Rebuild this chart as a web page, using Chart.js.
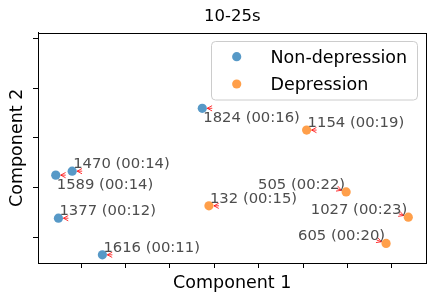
<!DOCTYPE html>
<html>
<head>
<meta charset="utf-8">
<style>body { margin: 0; background: #fff; }</style>
</head>
<body>
<canvas id="myChart" width="435" height="301"></canvas>

<script src="https://cdn.jsdelivr.net/npm/chart.js"></script>
<script>

	// values (axis units are unlabelled)
	const nonDepLabels = ['1824 (00:16)', '1470 (00:14)', '1589 (00:14)', '1377 (00:12)', '1616 (00:11)']
	const nonDepX = [-0.27, -3.20, -3.57, -3.51, -2.52]
	const nonDepY = [0.60, -0.67, -0.75, -1.62, -2.36]

	const depLabels = ['1154 (00:19)', '132 (00:15)', '505 (00:22)', '1027 (00:23)', '605 (00:20)']
	const depX = [2.08, -0.12, 2.97, 4.37, 3.87]
	const depY = [0.16, -1.37, -1.09, -1.60, -2.13]

	// where each annotation sits relative to its point
	const placement = {
		'1824 (00:16)': 'belowRight',
		'1589 (00:14)': 'belowRight',
		'505 (00:22)': 'aboveLeft',
		'1027 (00:23)': 'aboveLeft',
		'605 (00:20)': 'aboveLeft'
	}

	const FONT = "'DejaVu Sans', sans-serif"

	const toPoints = (xs, ys, labels) => xs.map((x, i) => ({ x: x, y: ys[i], label: labels[i] }))

	const annotations = {
		id: 'annotations',
		afterDatasetsDraw(chart) {
			const ctx = chart.ctx
			ctx.save()
			ctx.font = '14.8px ' + FONT
			chart.data.datasets.forEach((ds, di) => {
				const meta = chart.getDatasetMeta(di)
				meta.data.forEach((el, i) => {
					const label = ds.data[i].label
					const where = placement[label] || 'aboveRight'
					const px = el.x, py = el.y
					// arrow
					let dirX = 1, dirY = 0
					if (where === 'aboveLeft') { dirX = -0.94; dirY = -0.34 }
					const tipX = px + dirX * 5, tipY = py + dirY * 5
					const tailX = px + dirX * 10, tailY = py + dirY * 10
					const ang = Math.atan2(dirY, dirX)
					ctx.strokeStyle = 'red'
					ctx.lineWidth = 0.8
					ctx.beginPath()
					ctx.moveTo(tailX, tailY)
					ctx.lineTo(tipX, tipY)
					ctx.moveTo(tipX + Math.cos(ang + 0.5) * 5.5, tipY + Math.sin(ang + 0.5) * 5.5)
					ctx.lineTo(tipX, tipY)
					ctx.lineTo(tipX + Math.cos(ang - 0.5) * 5.5, tipY + Math.sin(ang - 0.5) * 5.5)
					ctx.stroke()
					// text
					ctx.fillStyle = '#4d4d4d'
					ctx.textBaseline = 'alphabetic'
					let tx = px + 1, cy = py - 8.6
					ctx.textAlign = 'left'
					if (where === 'belowRight') cy = py + 8.4
					if (where === 'aboveLeft') { tx = px - 1; ctx.textAlign = 'right' }
					ctx.fillText(label, tx, cy + 5.4)
				})
			})
			ctx.restore()
		},
		afterDraw(chart) {
			const ctx = chart.ctx
			const a = chart.chartArea
			ctx.save()
			// frame on all four sides
			ctx.strokeStyle = '#000'
			ctx.lineWidth = 1
			ctx.strokeRect(Math.round(a.left) + 0.5, Math.round(a.top) + 0.5,
				Math.round(a.right - a.left) - 1, Math.round(a.bottom - a.top))
			// legend in upper right
			const bx = 211.5, by = 41.5, bw = 206, bh = 58.5
			ctx.fillStyle = 'rgba(255,255,255,0.8)'
			ctx.strokeStyle = '#cccccc'
			ctx.beginPath()
			ctx.roundRect(bx, by, bw, bh, 4)
			ctx.fill()
			ctx.stroke()
			ctx.font = '17.5px ' + FONT
			ctx.textAlign = 'left'
			ctx.textBaseline = 'alphabetic'
			chart.data.datasets.forEach((ds, i) => {
				const y = 56.7 + i * 27.3
				ctx.fillStyle = ds.backgroundColor
				ctx.beginPath()
				ctx.arc(236.7, y, 4.6, 0, Math.PI * 2)
				ctx.fill()
				ctx.fillStyle = '#000'
				ctx.fillText(ds.label, 270.5, y + 6.4)
			})
			ctx.restore()
		}
	}

	const axisCommon = {
		type: 'linear',
		ticks: { display: false, stepSize: 1, includeBounds: false },
		grid: { drawOnChartArea: false, tickLength: 5, color: '#000', tickColor: '#000', tickWidth: 1 },
		border: { color: '#000', width: 1 }
	}

	new Chart(document.getElementById('myChart'), {
		type: 'scatter',
		data: {
			datasets: [{
				label: 'Non-depression',
				data: toPoints(nonDepX, nonDepY, nonDepLabels),
				backgroundColor: 'rgba(31,119,180,0.75)',
				borderWidth: 0,
				pointRadius: 4.6
			}, {
				label: 'Depression',
				data: toPoints(depX, depY, depLabels),
				backgroundColor: 'rgba(255,127,14,0.75)',
				borderWidth: 0,
				pointRadius: 4.6
			}]
		},
		options: {
			responsive: false,
			animation: false,
			layout: { padding: { top: 3, right: 8.5, bottom: 0, left: 0 } },
			plugins: {
				legend: { display: false },
				tooltip: { enabled: false },
				title: {
					display: true,
					fullSize: false,
					text: '10-25s',
					color: '#000',
					font: { size: 16.5, weight: 'normal', family: FONT },
					padding: { top: 3.6, bottom: 6.3 }
				}
			},
			scales: {
				x: Object.assign({}, axisCommon, {
					min: -3.97, max: 4.78,
					title: { display: true, text: 'Component 1', color: '#000',
						font: { size: 17.5, family: FONT }, padding: { top: 4.5, bottom: 7.5 } }
				}),
				y: Object.assign({}, axisCommon, {
					min: -2.525, max: 2.127,
					title: { display: true, text: 'Component 2', color: '#000',
						font: { size: 17.5, family: FONT }, padding: { top: 6.5, bottom: 5.5 } }
				})
			}
		},
		plugins: [annotations]
	})
</script>
</body>
</html>
